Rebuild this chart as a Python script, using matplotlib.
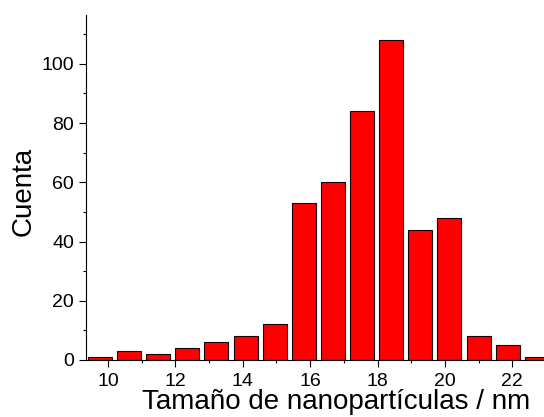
import matplotlib.pyplot as plt
import numpy as np

plt.rcParams['font.family'] = ['Liberation Sans', 'DejaVu Sans']

# histograma de tamaños
centros = np.array([9.77, 10.63, 11.50, 12.36, 13.22, 14.09, 14.95, 15.82,
                    16.68, 17.54, 18.41, 19.27, 20.13, 21.00, 21.86, 22.73])
cuentas = [1, 3, 2, 4, 6, 8, 12, 53, 60, 84, 108, 44, 48, 8, 5, 1]
ancho = 0.71

fig = plt.figure(figsize=(5.44, 4.17), dpi=100)
ax = fig.add_axes([86/544, 1-360/417, 1-86/544, (360-15)/417])

ax.bar(centros, cuentas, width=ancho, color='#ff0000', edgecolor='#1a0000', linewidth=0.8)

ax.set_xlim(9.35, 22.94)
ax.set_ylim(0, 116.5)
ax.set_xticks([10, 12, 14, 16, 18, 20, 22])
ax.set_xticks([11, 13, 15, 17, 19, 21], minor=True)
ax.set_yticks([0, 20, 40, 60, 80, 100])
ax.set_yticks([10, 30, 50, 70, 90, 110], minor=True)
ax.tick_params(which='major', length=5, width=0.8, labelsize=14)
ax.tick_params(which='minor', length=2.5, width=0.8)
ax.tick_params(axis='x', pad=4.5)

ax.spines['top'].set_visible(False)
ax.spines['right'].set_visible(False)

ax.set_xlabel('Tamaño de nanopartículas / nm', fontsize=20)
ax.xaxis.set_label_coords(0.546, -0.085)
ax.set_ylabel('Cuenta', fontsize=20)
ax.yaxis.set_label_coords(-0.107, 0.49)

plt.savefig('out.png', dpi=100)
